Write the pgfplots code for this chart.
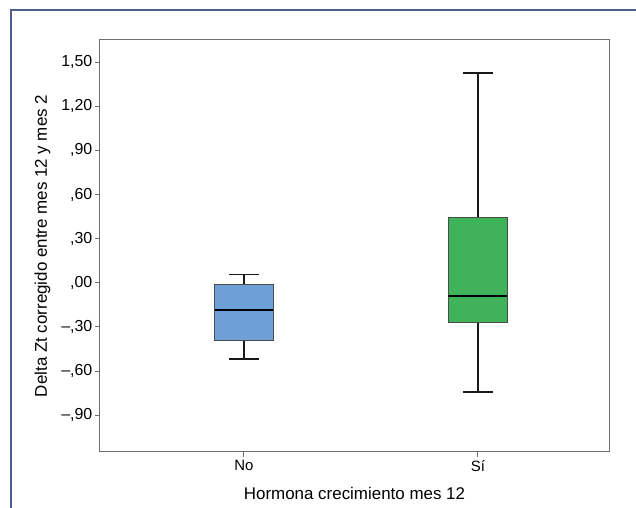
\documentclass[border=0pt]{standalone}
\usepackage{fontspec}
\setmainfont{Liberation Sans}
\usepackage{pgfplots}
\pgfplotsset{compat=1.18}
\usepgfplotslibrary{statistics}
\definecolor{nobox}{RGB}{108,160,214}
\definecolor{sibox}{RGB}{62,179,90}
\definecolor{axgray}{RGB}{110,110,110}
\definecolor{frameblue}{RGB}{78,92,140}
\begin{document}
\begin{tikzpicture}
\useasboundingbox (0bp,0bp) rectangle (636bp,508bp);
\draw[frameblue, line width=1.2bp] (11bp,-5bp) -- (11bp,498bp) -- (645bp,498bp);
\begin{axis}[
  at={(100bp,56bp)}, anchor=south west,
  width=509bp, height=412bp, scale only axis,
  xmin=0.3846, xmax=2.56, ymin=-1.15, ymax=1.65,
  boxplot/draw direction=y,
  xtick={1,2}, xticklabels={No,Sí},
  ytick={-0.9,-0.6,-0.3,0,0.3,0.6,0.9,1.2,1.5},
  yticklabels={{–,90},{–,60},{–,30},{,00},{,30},{,60},{,90},{1,20},{1,50}},
  ytick pos=left, xtick pos=bottom,
  tick align=outside, major tick length=5bp,
  axis line style={axgray, line width=1bp},
  tick style={axgray, line width=1bp},
  yticklabel style={font=\fontsize{16}{18}\selectfont, black, inner sep=2.5bp},
  xticklabel style={font=\fontsize{15}{17}\selectfont, black},
  label style={font=\fontsize{17}{20}\selectfont},
  xlabel={Hormona crecimiento mes 12},
  ylabel={Delta Zt corregido entre mes 12 y mes 2},
  xlabel style={at={(axis description cs:0.5,-0.0995)}, anchor=center},
  ylabel style={at={(axis description cs:-0.113,0.5)}, anchor=center},
  boxplot/every median/.style={black, line width=2bp},
  boxplot/every whisker/.style={black!90, line width=1.5bp},
  boxplot/every box/.style={draw=black!70, line width=1bp},
]
\addplot[boxplot prepared={lower whisker=-0.519, lower quartile=-0.395, median=-0.186,
  upper quartile=-0.014, upper whisker=0.057, draw position=1,
  box extend=0.248, whisker extend=0.128}, fill=nobox, draw=black!80] coordinates {};
\addplot[boxplot prepared={lower whisker=-0.741, lower quartile=-0.270, median=-0.093,
  upper quartile=0.442, upper whisker=1.425, draw position=2,
  box extend=0.252, whisker extend=0.128}, fill=sibox, draw=black!80] coordinates {};
\end{axis}
\end{tikzpicture}
\end{document}
